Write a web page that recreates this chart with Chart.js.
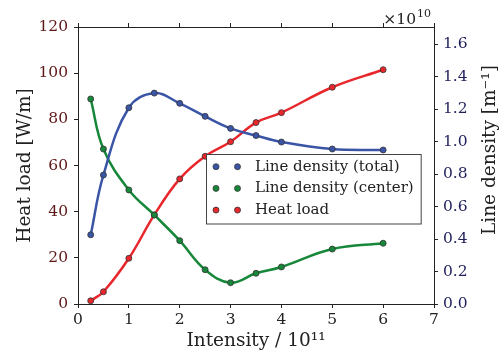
<!DOCTYPE html>
<html><head><meta charset="utf-8">
<script src="https://cdn.jsdelivr.net/npm/chart.js@4/dist/chart.umd.min.js"></script>
<style>html,body{margin:0;padding:0;background:#fff;}canvas{display:block;}</style>
</head><body>
<canvas id="c" width="499" height="354"></canvas>
<script>
// ---- data ----
const intensity = [0.25, 0.5, 1, 1.5, 2, 2.5, 3, 3.5, 4, 5, 6];
const lineDensityTotal = [0.426, 0.794, 1.208, 1.298, 1.235, 1.155, 1.081, 1.037, 0.997, 0.954, 0.948];
const lineDensityCenter = [1.262, 0.954, 0.702, 0.548, 0.390, 0.211, 0.131, 0.189, 0.228, 0.338, 0.374];
const heatLoad = [1.4, 5.3, 19.8, 38.6, 54.2, 64.0, 70.3, 78.6, 82.9, 93.9, 101.5];
const seriesLabels = ['Line density (total)', 'Line density (center)', 'Heat load'];
const xTicks = [0, 1, 2, 3, 4, 5, 6, 7];
const leftTicks = [0, 20, 40, 60, 80, 100, 120];
const rightTicks = [0.0, 0.2, 0.4, 0.6, 0.8, 1.0, 1.2, 1.4, 1.6];
const xTitle = 'Intensity / 10\u00B9\u00B9';
const leftTitle = 'Heat load [W/m]';
const rightTitle = 'Line density [m\u207B\u00B9]';
const offsetMain = '\u00D710';
const offsetExp = '10';

const SERIF = "'DejaVu Serif', serif";
const BLUE = '#3a55a6', GREEN = '#17873a', RED = '#e8262b';
const EDGE = '#333333', AX = '#222222';

const pts = vals => intensity.map((x, i) => ({x: x, y: vals[i]}));
const ds = (label, vals, color, axis) => ({
  label: label, data: pts(vals), yAxisID: axis,
  borderColor: color, backgroundColor: color, borderWidth: 2.5,
  pointRadius: 3, pointBorderWidth: 0.8, pointBorderColor: EDGE,
  pointBackgroundColor: color, tension: 0.4, fill: false
});

const gridOpt = {drawOnChartArea: false, drawTicks: true, tickLength: 4, tickColor: AX, tickWidth: 1};
const borderOpt = {display: true, color: AX, width: 1};

const overlay = {
  id: 'overlay',
  afterDraw(chart) {
    const ctx = chart.ctx, ca = chart.chartArea;
    ctx.save();
    // offset text (x10^10)
    ctx.fillStyle = AX;
    ctx.textBaseline = 'alphabetic';
    ctx.textAlign = 'right';
    ctx.font = '11px ' + SERIF;
    const supW = ctx.measureText(offsetExp).width;
    ctx.fillText(offsetExp, ca.right - 3, 17);
    ctx.font = '15.5px ' + SERIF;
    ctx.fillText(offsetMain, ca.right - 4 - supW, 24);
    // right axis title (reads bottom to top)
    ctx.save();
    ctx.translate(495, 150);
    ctx.rotate(-Math.PI / 2);
    ctx.textAlign = 'center';
    ctx.font = '18.5px ' + SERIF;
    ctx.fillStyle = AX;
    ctx.fillText(rightTitle, 0, 0);
    ctx.restore();
    // legend
    ctx.font = '15px ' + SERIF;
    let maxW = 0;
    seriesLabels.forEach(t => { maxW = Math.max(maxW, ctx.measureText(t).width); });
    const bx = 206, by = 154, rowH = 21.7, textX = 255;
    const bw = (textX - bx) + maxW + 7, bh = 69.5;
    ctx.fillStyle = '#ffffff';
    ctx.fillRect(bx, by, bw, bh);
    ctx.strokeStyle = '#444444';
    ctx.lineWidth = 1;
    ctx.strokeRect(bx + 0.5, by + 0.5, bw, bh);
    chart.data.datasets.forEach((d, i) => {
      const y = by + 12.7 + rowH * i;
      [216, 237.5].forEach(mx => {
        ctx.beginPath();
        ctx.arc(mx, y, 3, 0, Math.PI * 2);
        ctx.fillStyle = d.borderColor;
        ctx.fill();
        ctx.lineWidth = 0.8;
        ctx.strokeStyle = EDGE;
        ctx.stroke();
      });
      ctx.fillStyle = AX;
      ctx.textAlign = 'left';
      ctx.textBaseline = 'middle';
      ctx.fillText(seriesLabels[i], textX, y);
    });
    ctx.restore();
  }
};

new Chart(document.getElementById('c'), {
  type: 'line',
  data: {
    datasets: [
      ds(seriesLabels[0], lineDensityTotal, BLUE, 'y1'),
      ds(seriesLabels[1], lineDensityCenter, GREEN, 'y1'),
      ds(seriesLabels[2], heatLoad, RED, 'y')
    ]
  },
  options: {
    responsive: false, animation: false, devicePixelRatio: 1,
    layout: {padding: 0},
    plugins: {legend: {display: false}, tooltip: {enabled: false}},
    scales: {
      x: {
        type: 'linear', position: 'bottom', min: 0, max: 7,
        afterBuildTicks: s => { s.ticks = xTicks.map(v => ({value: v})); },
        afterFit: s => { s.height = 50; },
        ticks: {font: {family: SERIF, size: 15.5}, color: AX, padding: 3, maxRotation: 0},
        grid: gridOpt, border: borderOpt,
        title: {display: true, text: xTitle, font: {family: SERIF, size: 18.5}, color: AX, padding: {top: 0, bottom: 2}}
      },
      xTop: {
        type: 'linear', position: 'top', min: 0, max: 7,
        afterBuildTicks: s => { s.ticks = xTicks.map(v => ({value: v})); },
        afterFit: s => { s.height = 27; },
        ticks: {callback: () => '', font: {family: SERIF, size: 10}},
        grid: gridOpt, border: borderOpt
      },
      y: {
        type: 'linear', position: 'left', min: 0, max: 120,
        afterBuildTicks: s => { s.ticks = leftTicks.map(v => ({value: v})); },
        afterFit: s => { s.width = 78; },
        ticks: {font: {family: SERIF, size: 15.5}, color: '#5e1818', padding: 6},
        grid: gridOpt, border: borderOpt,
        title: {display: true, text: leftTitle, font: {family: SERIF, size: 18.5}, color: AX, padding: {top: 14, bottom: 0}}
      },
      y1: {
        type: 'linear', position: 'right', min: 0, max: 1.705,
        afterBuildTicks: s => { s.ticks = rightTicks.map(v => ({value: v})); },
        afterFit: s => { s.width = 65; },
        ticks: {font: {family: SERIF, size: 15.5}, color: '#1f1f5c', padding: 5, callback: v => Number(v).toFixed(1)},
        grid: gridOpt, border: borderOpt
      }
    }
  },
  plugins: [overlay]
});
</script>
</body></html>
